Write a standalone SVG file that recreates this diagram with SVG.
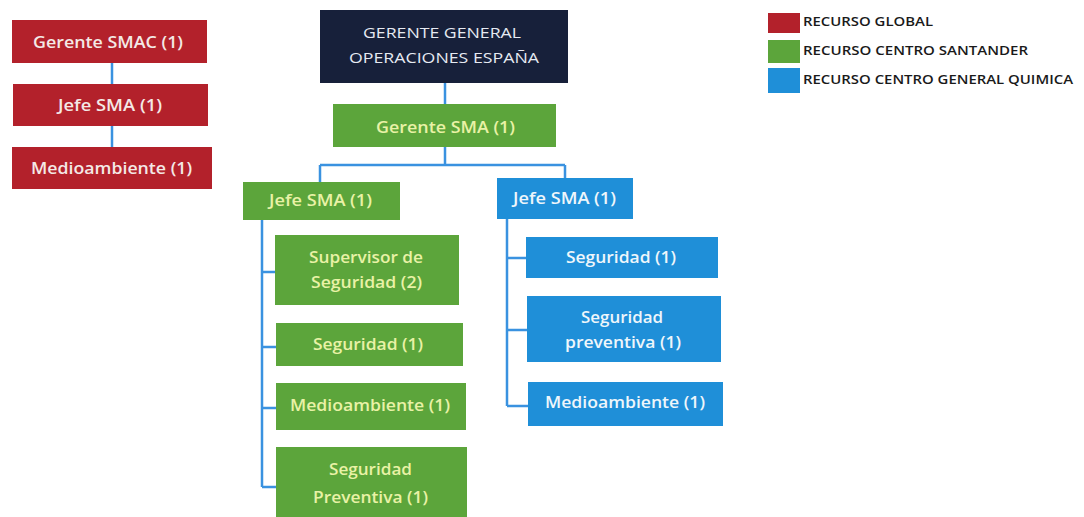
<svg xmlns="http://www.w3.org/2000/svg" width="1084" height="517" viewBox="0 0 1084 517">
<style>
.red{fill:#b3212b}
.green{fill:#5ca53b}
.blue{fill:#1f8fd8}
.navy{fill:#17203a}
text{font-family:"Open Sans","Liberation Sans",sans-serif;font-size:16px;font-weight:600;text-anchor:middle}
.tw{fill:#f4e9e6}
.tg{fill:#e9f2a6}
.tb{fill:#eef6fb}
.tn{fill:#e6eaf2;font-size:15px;font-weight:500}
.lg{fill:#1a1a1a;font-size:13px;font-weight:600;text-anchor:start}
.conn{stroke:#3a92e0;stroke-width:2.5;fill:none}
</style>
<rect width="1084" height="517" fill="#ffffff"/>
<g id="connectors">
<path class="conn" d="M112 63V84M112 126V147"/>
<path class="conn" d="M445 83V104"/>
<path class="conn" d="M445 147V165M320 165H565M320 165V182M565 165V178"/>
<path class="conn" d="M262 220V487M262 272H275M262 347H276M262 408H276M262 487H276"/>
<path class="conn" d="M507 219V406M507 258H526M507 330H527M507 406H528"/>
</g>
<g id="gerente-smac"><rect class="red" x="12" y="20" width="195" height="43"/><text class="tw" x="108" y="47.5" textLength="150" lengthAdjust="spacingAndGlyphs">Gerente SMAC (1)</text></g>
<g id="jefe-sma-global"><rect class="red" x="13" y="84" width="195" height="42"/><text class="tw" x="110" y="110.5" textLength="104" lengthAdjust="spacingAndGlyphs">Jefe SMA (1)</text></g>
<g id="medioambiente-global"><rect class="red" x="12" y="147" width="200" height="42"/><text class="tw" x="111.5" y="173.5" textLength="161" lengthAdjust="spacingAndGlyphs">Medioambiente (1)</text></g>
<g id="gerente-general"><rect class="navy" x="320" y="10" width="248" height="73"/><text class="tn" x="442" y="37.5" textLength="158" lengthAdjust="spacingAndGlyphs">GERENTE GENERAL</text><text class="tn" x="444" y="62.5" textLength="190" lengthAdjust="spacingAndGlyphs">OPERACIONES ESPAÑA</text></g>
<g id="gerente-sma"><rect class="green" x="333" y="104" width="223" height="43"/><text class="tg" x="445.5" y="132.5" textLength="139" lengthAdjust="spacingAndGlyphs">Gerente SMA (1)</text></g>
<g id="jefe-sma-santander"><rect class="green" x="243" y="182" width="157" height="38"/><text class="tg" x="320.5" y="205.5" textLength="103" lengthAdjust="spacingAndGlyphs">Jefe SMA (1)</text></g>
<g id="jefe-sma-quimica"><rect class="blue" x="497" y="178" width="136" height="41"/><text class="tb" x="564.5" y="203.5" textLength="103" lengthAdjust="spacingAndGlyphs">Jefe SMA (1)</text></g>
<g id="supervisor-seguridad"><rect class="green" x="275" y="235" width="184" height="70"/><text class="tg" x="366" y="262.5" textLength="114" lengthAdjust="spacingAndGlyphs">Supervisor de</text><text class="tg" x="366.5" y="287.5" textLength="111" lengthAdjust="spacingAndGlyphs">Seguridad (2)</text></g>
<g id="seguridad-santander"><rect class="green" x="276" y="323" width="187" height="43"/><text class="tg" x="368" y="349.5" textLength="110" lengthAdjust="spacingAndGlyphs">Seguridad (1)</text></g>
<g id="medioambiente-santander"><rect class="green" x="276" y="383" width="190" height="47"/><text class="tg" x="370" y="410.5" textLength="160" lengthAdjust="spacingAndGlyphs">Medioambiente (1)</text></g>
<g id="seguridad-preventiva-santander"><rect class="green" x="276" y="447" width="191" height="75"/><text class="tg" x="370.5" y="474.5" textLength="83" lengthAdjust="spacingAndGlyphs">Seguridad</text><text class="tg" x="370.5" y="502.5" textLength="115" lengthAdjust="spacingAndGlyphs">Preventiva (1)</text></g>
<g id="seguridad-quimica"><rect class="blue" x="526" y="237" width="192" height="41"/><text class="tb" x="621" y="262.5" textLength="110" lengthAdjust="spacingAndGlyphs">Seguridad (1)</text></g>
<g id="seguridad-preventiva-quimica"><rect class="blue" x="527" y="296" width="194" height="66"/><text class="tb" x="622" y="322.5" textLength="82" lengthAdjust="spacingAndGlyphs">Seguridad</text><text class="tb" x="623" y="347.5" textLength="116" lengthAdjust="spacingAndGlyphs">preventiva (1)</text></g>
<g id="medioambiente-quimica"><rect class="blue" x="528" y="382" width="195" height="44"/><text class="tb" x="625" y="407.5" textLength="160" lengthAdjust="spacingAndGlyphs">Medioambiente (1)</text></g>
<g id="legend">
<rect class="red" x="768" y="13" width="32" height="20"/><text class="lg" x="803" y="25.5" textLength="130" lengthAdjust="spacingAndGlyphs">RECURSO GLOBAL</text>
<rect class="green" x="768" y="40" width="32" height="23"/><text class="lg" x="803" y="54.5" textLength="225" lengthAdjust="spacingAndGlyphs">RECURSO CENTRO SANTANDER</text>
<rect class="blue" x="768" y="68" width="32" height="25"/><text class="lg" x="803" y="83.5" textLength="270" lengthAdjust="spacingAndGlyphs">RECURSO CENTRO GENERAL QUIMICA</text>
</g>
</svg>
